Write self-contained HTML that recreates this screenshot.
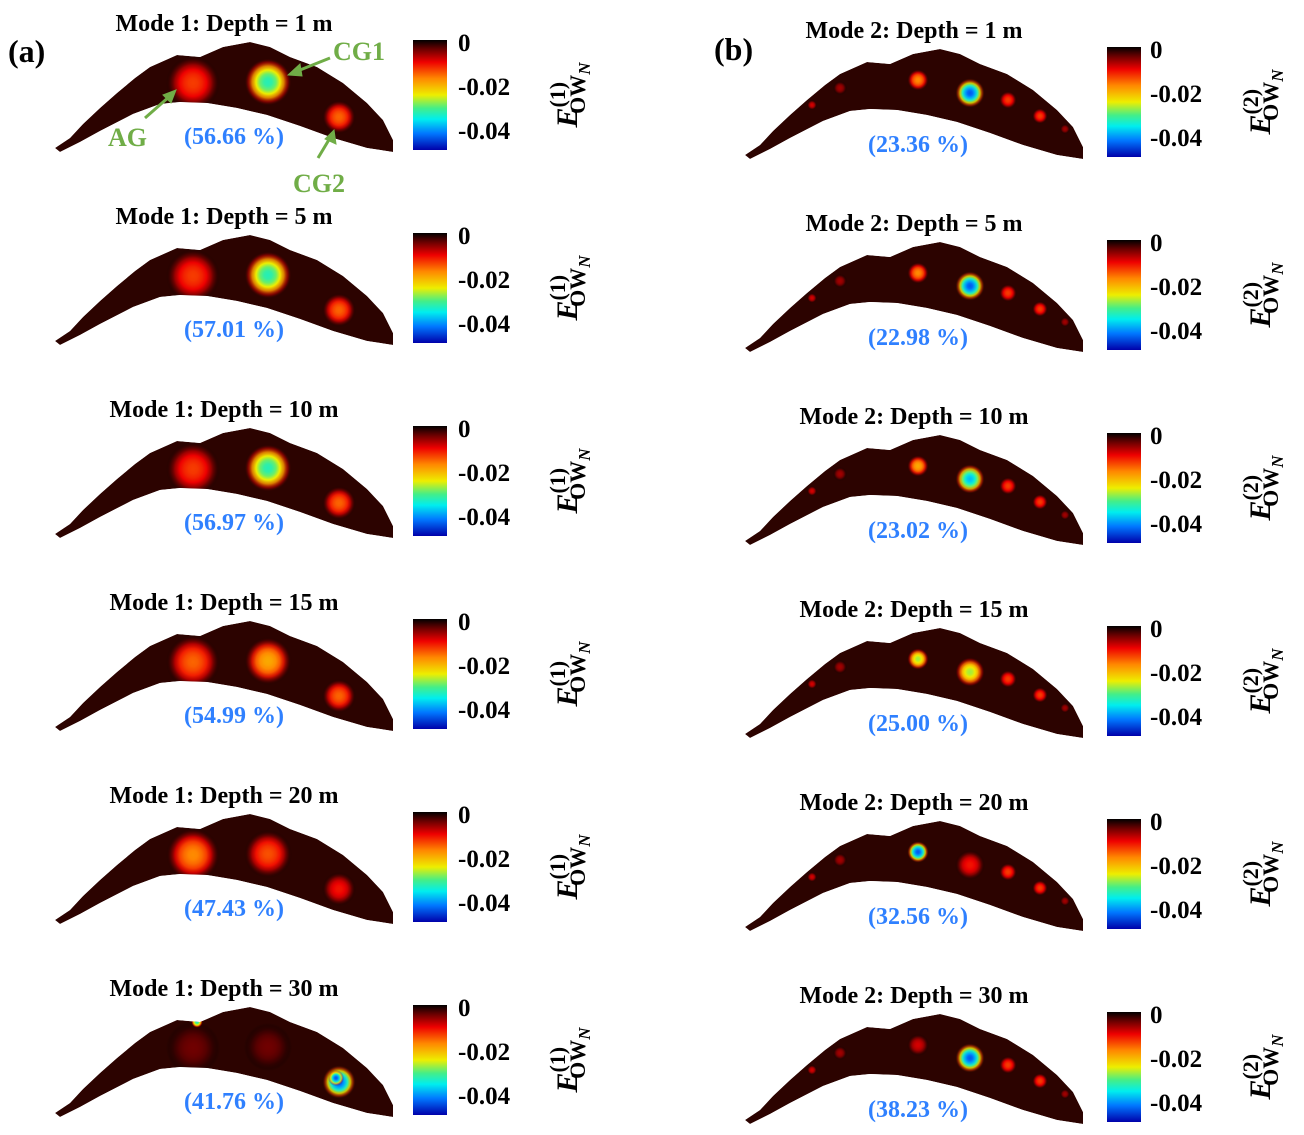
<!DOCTYPE html>
<html><head><meta charset="utf-8"><style>
html,body{margin:0;padding:0;background:#fff;}
svg{display:block;font-family:"Liberation Serif",serif;font-weight:bold;}
</style></head><body>
<svg id="fig" width="1304" height="1135" viewBox="0 0 1304 1135" xmlns="http://www.w3.org/2000/svg">
<defs>
<linearGradient id="cbar" x1="0" y1="0" x2="0" y2="1">
<stop offset="0" stop-color="#000"/><stop offset="0.08" stop-color="#600"/><stop offset="0.2" stop-color="#e00"/>
<stop offset="0.35" stop-color="#f80"/><stop offset="0.5" stop-color="#ee0"/><stop offset="0.62" stop-color="#4e8"/>
<stop offset="0.72" stop-color="#0ee"/><stop offset="0.85" stop-color="#07f"/><stop offset="1" stop-color="#00a"/>
</linearGradient>
<clipPath id="mapclip"><path d="M55,148 L70,138 L83,124 L100,108 L117,93 L135,78 L150,67 L177,55 L200,57 L223,47 L250,42 L270,47 L290,57 L317,67 L343,83 L367,103 L383,120 L393,140 L393,152 L367,148 L333,138 L300,126 L267,115 L237,108 L207,103 L180,102 L160,104 L133,114 L100,131 L80,142 L60,152 Z"/></clipPath>
</defs>
<text x="8" y="62" font-size="32">(a)</text>
<text x="714" y="60" font-size="32">(b)</text>
<g id="panels"></g>
<g fill="#70ad47" stroke="#70ad47" font-size="26">
<line x1="330" y1="58" x2="295" y2="72" stroke-width="3"/><polygon points="288,75 300,64 302,76"/>
<text x="333" y="60" stroke="none">CG1</text>
<line x1="145" y1="118" x2="170" y2="96" stroke-width="3"/><polygon points="176,90 171,103 163,95"/>
<text x="108" y="146" stroke="none">AG</text>
<line x1="318" y1="158" x2="330" y2="138" stroke-width="3"/><polygon points="334,130 336,144 325,139"/>
<text x="293" y="192" stroke="none">CG2</text>
</g>
</svg>
<script>
const depths = [1, 5, 10, 15, 20, 30];
const mode1Pct = ["56.66", "57.01", "56.97", "54.99", "47.43", "41.76"];
const mode2Pct = ["23.36", "22.98", "23.02", "25.00", "32.56", "38.23"];
const cbTicks = ["0", "-0.02", "-0.04"];
const mode1AG = [-0.012, -0.012, -0.012, -0.014, -0.016, -0.004];
const mode1CG1 = [-0.03, -0.03, -0.03, -0.018, -0.013, -0.004];
const mode1CG2 = [-0.014, -0.014, -0.014, -0.014, -0.01, -0.04];
const mode2Main = [-0.04, -0.04, -0.035, -0.025, -0.01, -0.04];
const mode2Side = [-0.016, -0.016, -0.018, -0.025, -0.04, -0.008];

const stops=[[0,[0,0,0]],[0.08,[102,0,0]],[0.2,[238,0,0]],[0.35,[255,136,0]],[0.5,[238,238,0]],[0.62,[68,238,136]],[0.72,[0,238,238]],[0.85,[0,119,255]],[1,[0,0,170]]];
function cmap(v){let t=Math.min(1,Math.max(0,-v/0.045));
 for(let i=1;i<stops.length;i++){if(t<=stops[i][0]){const a=stops[i-1],b=stops[i];const f=(t-a[0])/(b[0]-a[0]);
  return 'rgb('+a[1].map((c,k)=>Math.round(c+(b[1][k]-c)*f)).join(',')+')';}}return 'rgb(0,0,170)';}
const NS="http://www.w3.org/2000/svg";
const root=document.getElementById('panels');const defs=document.querySelector('defs');
function el(tag,attrs,parent){const e=document.createElementNS(NS,tag);for(const k in attrs)e.setAttribute(k,attrs[k]);parent.appendChild(e);return e;}
let gid=0;
function blob(g,x,y,r,v){const id='b'+(gid++);const rg=el('radialGradient',{id:id},defs);
 for(let i=0;i<=6;i++){const t=i/6;el('stop',{offset:t,'stop-color':cmap(v*(1-t*t)),'stop-opacity':t<0.6?1:(1-t)/0.4},rg);}
 const c=el('circle',{cx:x,cy:y,r:r,fill:'url(#'+id+')'},g);
 
 }
const shape="M55,148 L70,138 L83,124 L100,108 L117,93 L135,78 L150,67 L177,55 L200,57 L223,47 L250,42 L270,47 L290,57 L317,67 L343,83 L367,103 L383,120 L393,140 L393,152 L367,148 L333,138 L300,126 L267,115 L237,108 L207,103 L180,102 L160,104 L133,114 L100,131 L80,142 L60,152 Z";
function panel(col,row){
 const ox=col?690:0, oy=row*193+(col?7:0);
 const g=el('g',{transform:'translate('+ox+','+oy+')'},root);
 
 
 const mode=col?2:1;
 const t=el('text',{x:224,y:31,'font-size':24,'text-anchor':'middle'},g);
 t.textContent='Mode '+mode+': Depth = '+depths[row]+' m';
 
 
 const m=el('g',{'clip-path':'url(#mapclip)'},g);
 const p=el('path',{d:shape,fill:'#2c0300'},m);
 
 
 if(!col){
  blob(m,193,83,27,mode1AG[row]);blob(m,268,82,24,mode1CG1[row]);blob(m,339,117,17,mode1CG2[row]);
  if(row===5){blob(m,336,113,8,-0.04);blob(m,197,57,6,-0.03);}
 } else {
  blob(m,280,86,15,mode2Main[row]);blob(m,228,73,11,mode2Side[row]);blob(m,318,93,9,-0.012);
  blob(m,350,109,8,-0.012);blob(m,150,81,7,-0.006);blob(m,122,98,5,-0.008);blob(m,375,122,5,-0.006);
 }
 const cb=el('rect',{x:col?417:413,y:40,width:34,height:110,fill:'url(#cbar)'},g);
 
 
 cbTicks.forEach((s,i)=>{const tt=el('text',{x:col?460:458,y:51+i*44,'font-size':25},g);tt.textContent=s;
  
  });
 const yl=el('text',{transform:'translate('+(col?580:577)+',95) rotate(-90)','font-size':30,'text-anchor':'middle'},g);
 yl.innerHTML='<tspan font-style="italic">E</tspan><tspan dy="-12" font-size="22">(</tspan><tspan font-size="22">'+mode+'</tspan><tspan font-size="22">)</tspan><tspan dy="20" dx="-32" font-size="22">OW</tspan><tspan dy="5" font-size="17" font-style="italic">N</tspan>';
 
 
 const pc=el('text',{x:col?228:234,y:col?145:144,'font-size':24,'text-anchor':'middle',fill:'#2f80ff'},g);
 pc.textContent='('+(col?mode2Pct:mode1Pct)[row]+' %)';
 
 
}
for(let r=0;r<6;r++){panel(0,r);panel(1,r);}
</script>
</body></html>
